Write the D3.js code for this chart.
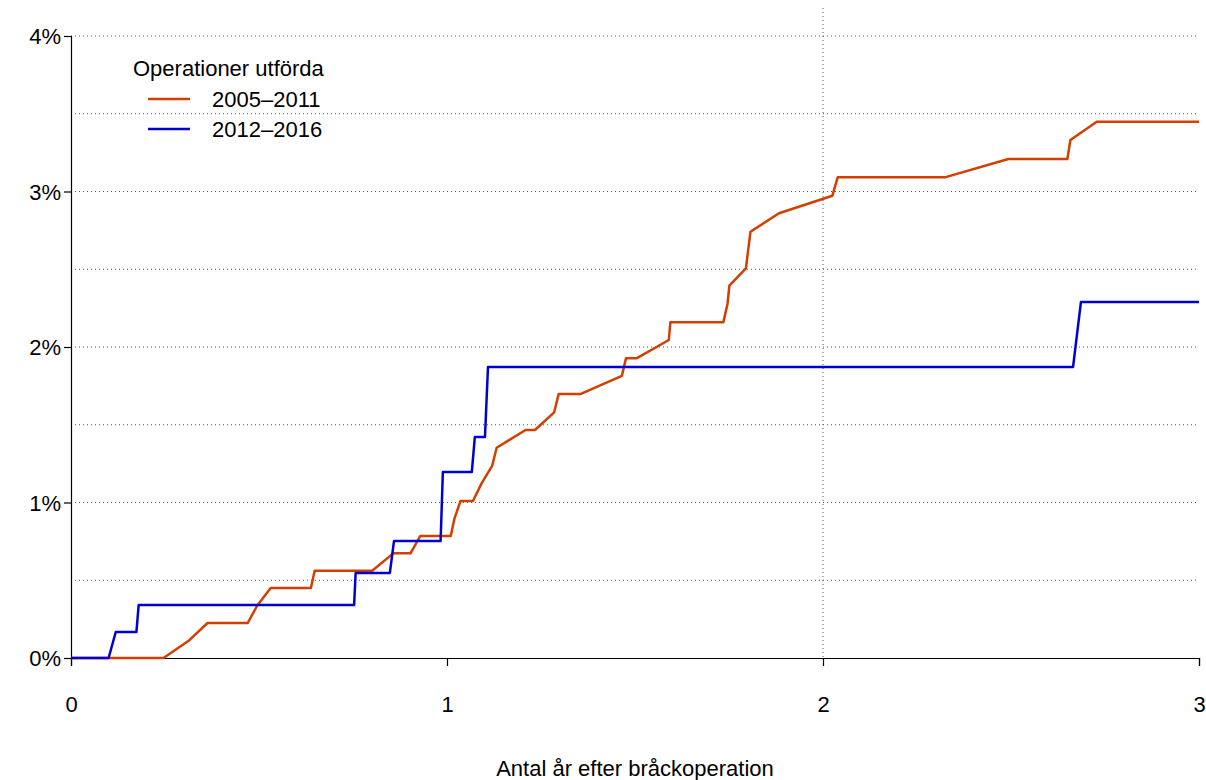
<!DOCTYPE html>
<html>
<head>
<meta charset="UTF-8">
<script src="https://cdnjs.cloudflare.com/ajax/libs/d3/7.8.5/d3.min.js"></script>
<style>
body { margin: 0; background: #fff; }
text { font-family: "Liberation Sans", Arial, sans-serif; font-size: 22px; fill: #000; }
</style>
</head>
<body>
<script>
// series as [years, percent]
var series2005 = [[0,0],[0.246,0],[0.312,0.109],[0.363,0.225],[0.470,0.225],[0.495,0.336],[0.531,0.450],
  [0.638,0.450],[0.648,0.561],[0.801,0.561],[0.857,0.673],[0.903,0.673],[0.929,0.785],[1.010,0.785],
  [1.020,0.898],[1.036,1.010],[1.069,1.010],[1.092,1.123],[1.120,1.235],[1.132,1.352],[1.209,1.466],
  [1.234,1.466],[1.285,1.580],[1.297,1.698],[1.356,1.698],[1.465,1.814],[1.476,1.927],[1.504,1.927],
  [1.590,2.045],[1.594,2.159],[1.735,2.159],[1.746,2.277],[1.751,2.394],[1.795,2.506],[1.807,2.741],
  [1.883,2.860],[2.025,2.973],[2.039,3.091],[2.324,3.091],[2.493,3.209],[2.650,3.209],[2.658,3.331],
  [2.728,3.449],[3,3.449]];
var series2012 = [[0,0],[0.100,0],[0.119,0.167],[0.174,0.167],[0.180,0.341],[0.753,0.341],[0.757,0.547],
  [0.848,0.547],[0.859,0.752],[0.983,0.752],[0.989,1.196],[1.066,1.196],[1.074,1.421],[1.101,1.421],
  [1.109,1.871],[2.665,1.871],[2.686,2.289],[3,2.289]];
var seriesNames = ["2005\u20132011", "2012\u20132016"];
var seriesColors = ["#d23f00", "#0000d2"];
var xTicks = [0, 1, 2, 3];
var yTicks = [0, 1, 2, 3, 4];
var yGrid = [0.5, 1, 1.5, 2, 2.5, 3, 3.5, 4];

var svg = d3.select("body").append("svg").attr("width", 1206).attr("height", 780);
var x = d3.scaleLinear().domain([0, 3]).range([71, 1199]);
var y = d3.scaleLinear().domain([0, 4]).range([658, 36]);

// grid
svg.selectAll(".hg").data(yGrid).enter().append("line")
  .attr("x1", 71).attr("x2", 1199).attr("y1", d => y(d)).attr("y2", d => y(d))
  .attr("stroke", "#555").attr("stroke-width", 1).attr("stroke-dasharray", "1,3");
svg.append("line").attr("x1", x(2)).attr("x2", x(2)).attr("y1", 8).attr("y2", 658)
  .attr("stroke", "#555").attr("stroke-width", 1).attr("stroke-dasharray", "1,3");

// axes
var yAxis = svg.append("g").attr("transform", "translate(71,0)")
  .call(d3.axisLeft(y).tickValues(yTicks).tickFormat(d => d + "%").tickSize(7).tickPadding(3));
var xAxis = svg.append("g").attr("transform", "translate(0,658)")
  .call(d3.axisBottom(x).tickValues(xTicks).tickFormat(d3.format("d")).tickSize(8).tickPadding(30));
[yAxis, xAxis].forEach(function(g) {
  g.select(".domain").attr("stroke", "#000").attr("stroke-width", 1.2);
  g.selectAll(".tick line").attr("stroke", "#000").attr("stroke-width", 1.2);
  g.selectAll("text").style("font-size", "22px").style("font-family", "Liberation Sans, Arial, sans-serif").attr("fill", "#000");
});
yAxis.selectAll("text").attr("dy", "0.35em");

// lines
var line = d3.line().x(d => x(d[0])).y(d => y(d[1]));
[series2005, series2012].forEach(function(s, i) {
  svg.append("path").datum(s).attr("d", line).attr("fill", "none")
    .attr("stroke", seriesColors[i]).attr("stroke-width", 2.5).attr("stroke-linejoin", "round");
});

// legend
svg.append("text").attr("x", 133).attr("y", 76).text("Operationer utförda");
seriesNames.forEach(function(n, i) {
  var ly = 99 + i * 30;
  svg.append("line").attr("x1", 148).attr("x2", 190).attr("y1", ly).attr("y2", ly)
    .attr("stroke", seriesColors[i]).attr("stroke-width", 2.5);
  svg.append("text").attr("x", 212).attr("y", ly + 8).text(n);
});

svg.append("text").attr("x", 635).attr("y", 776).attr("text-anchor", "middle").text("Antal år efter bråckoperation");
</script>
</body>
</html>
